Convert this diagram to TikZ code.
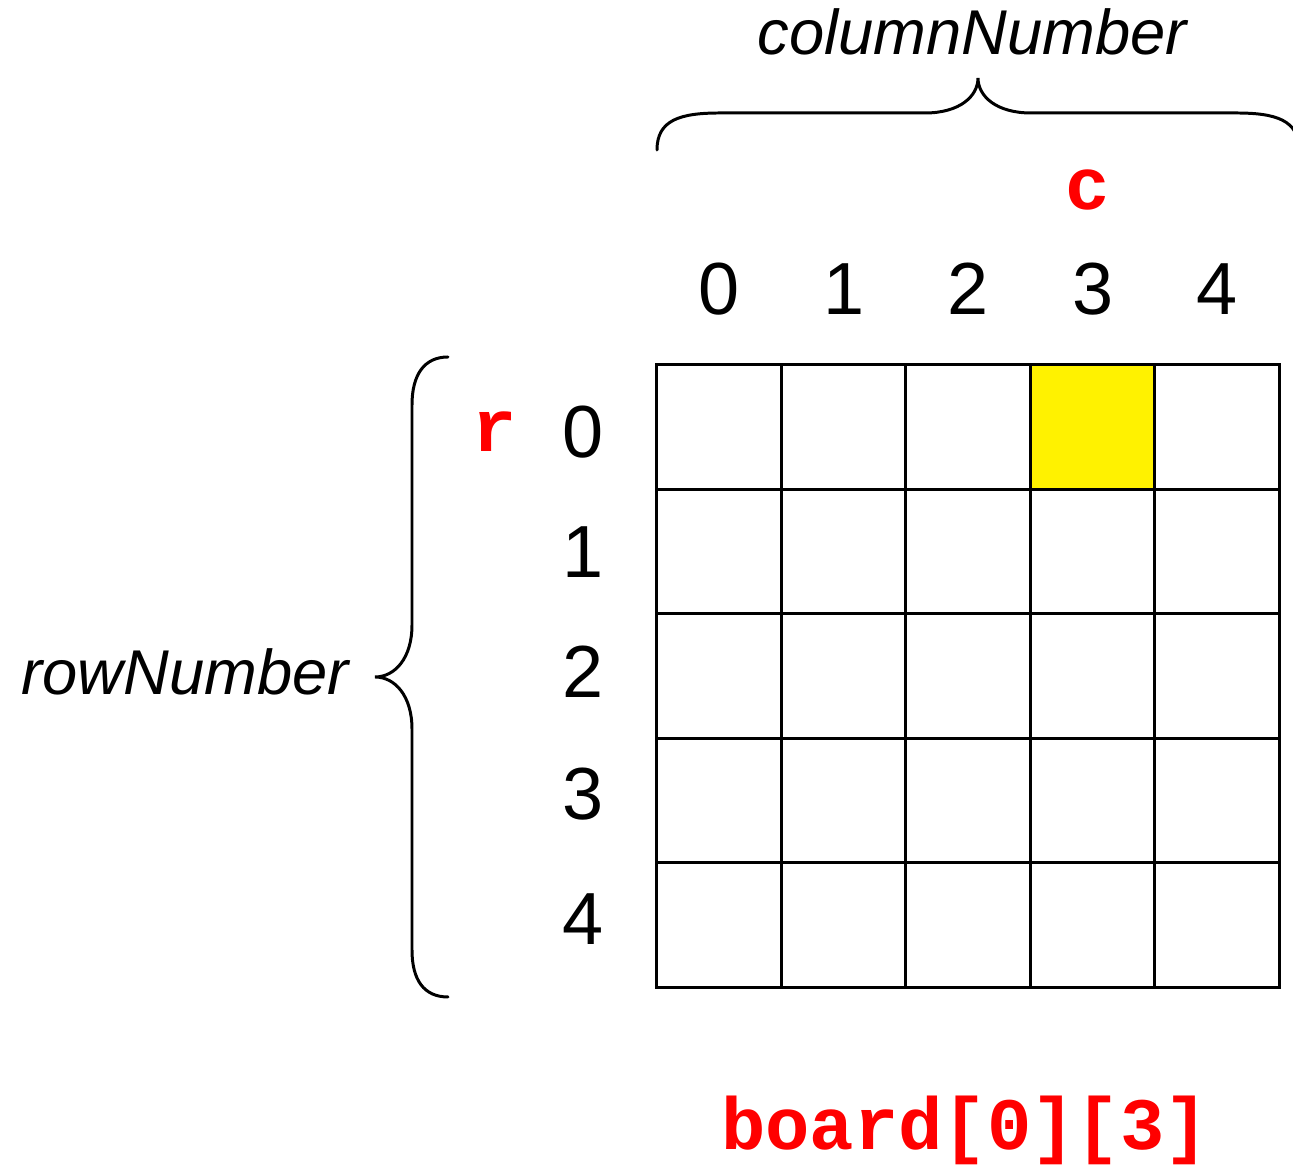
\documentclass[tikz,border=0pt]{standalone}
\usepackage{fontspec}
\setmainfont{Liberation Sans}
\setmonofont{Liberation Mono}
\begin{document}
\begin{tikzpicture}[
    x=0.01cm, y=-0.01cm,
    cell/.style={rectangle, draw, line width=0.85pt, minimum size=1.246cm, inner sep=0pt, anchor=north west},
    index/.style={font=\fontsize{21}{25}\selectfont, anchor=base, inner sep=0pt},
    var/.style={font=\fontsize{21}{25}\selectfont\ttfamily\bfseries, text=red, anchor=base, inner sep=0pt},
    axis/.style={font=\fontsize{18}{22}\selectfont\itshape, anchor=base, inner sep=0pt},
    brace/.style={line width=0.85pt, line cap=round}
]

\useasboundingbox (0,0) rectangle (1293,1168);

% Board cells (board[0][3] shaded)
\foreach \r in {0,...,4}
  \foreach \c in {0,...,4} {
    \def\shade{white}
    \ifnum\r=0 \ifnum\c=3 \def\shade{yellow}\fi\fi
    \node[cell, fill=\shade] (cell\r\c) at ({655+124.6*\c},{363+124.6*\r}) {};
  }

% Column indices
\foreach \c in {0,...,4}
  \node[index] (col\c) at ({719+124.6*\c},315) {\c};

% Row indices
\foreach \r/\yb in {0/458,1/578,2/698,3/820,4/945}
  \node[index] (row\r) at (583,\yb) {\r};

% Variables
\node[var] (rvar) at (495,452) {r};
\node[var] (cvar) at (1088,210) {c};
\node[var] (elem) at (965,1150) {board[0][3]};

% Axis names
\node[axis] (colname) at (972,55) {columnNumber};
\node[axis] (rowname) at (185,695) {rowNumber};

% Top brace
\coordinate (tl) at (657,150);
\coordinate (ttip) at (978,78);
\coordinate (tr) at (1299,150);
\draw[brace] (tl) .. controls (657,120) and (680,113) .. (720,113) -- (925,113)
  .. controls (960,113) and (978,96) .. (ttip)
  .. controls (978,96) and (996,113) .. (1031,113) -- (1236,113)
  .. controls (1276,113) and (1299,120) .. (tr);

% Left brace
\coordinate (lt) at (448,357);
\coordinate (ltip) at (375,677);
\coordinate (lb) at (448,997);
\draw[brace] (lt) .. controls (424,357) and (412,375) .. (412,405) -- (412,625)
  .. controls (412,658) and (395,677) .. (ltip)
  .. controls (395,677) and (412,696) .. (412,729) -- (412,950)
  .. controls (412,980) and (424,997) .. (lb);

\end{tikzpicture}
\end{document}
